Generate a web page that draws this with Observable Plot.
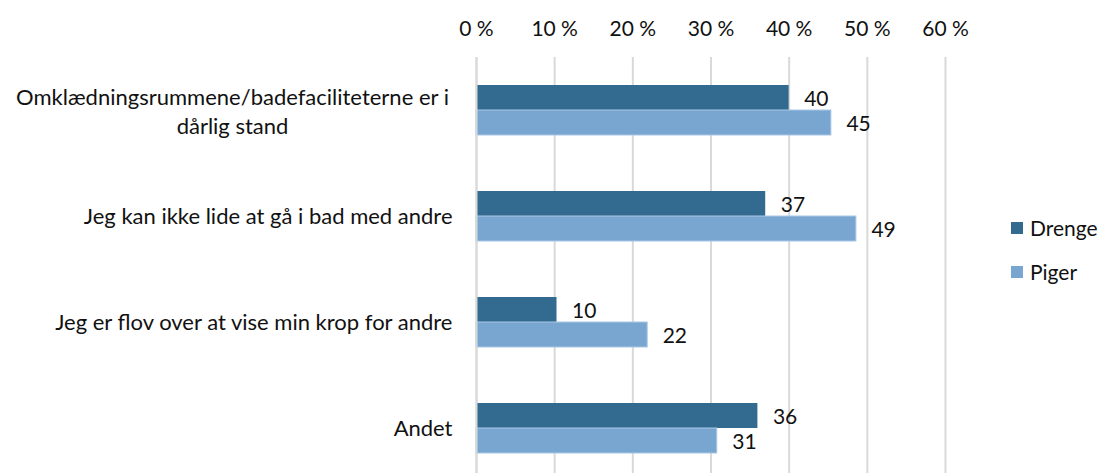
<!DOCTYPE html>
<html>
<head>
<meta charset="utf-8">
<script src="https://cdn.jsdelivr.net/npm/d3@7"></script>
<script src="https://cdn.jsdelivr.net/npm/@observablehq/plot@0.6"></script>
<style>
  html, body { margin: 0; padding: 0; background: #fff; }
  #wrap { position: relative; width: 1100px; height: 473px; font-family: Lato, "Open Sans", sans-serif; }
  .leg { position: absolute; left: 1011px; font-size: 21px; color: #111; display: flex; align-items: center; line-height: 24px; }
  .leg span.sw { display: inline-block; width: 12px; height: 12px; margin-right: 7px; }
</style>
</head>
<body>
<div id="wrap"></div>
<script>
const categories = [
  "Omklædningsrummene/badefaciliteterne er i\ndårlig stand",
  "Jeg kan ikke lide at gå i bad med andre",
  "Jeg er flov over at vise min krop for andre",
  "Andet"
];
const series = ["Drenge", "Piger"];
const drenge = [40.0, 37.0, 10.3, 36.0];
const piger = [45.4, 48.6, 21.9, 30.8];
const xTicks = [0, 10, 20, 30, 40, 50, 60];
const colors = ["#336A90", "#78A6D0"];

const data = [];
categories.forEach((c, i) => {
  data.push({cat: c, sex: "Drenge", value: drenge[i]});
  data.push({cat: c, sex: "Piger", value: piger[i]});
});
const dData = data.filter(d => d.sex === "Drenge");
const pData = data.filter(d => d.sex === "Piger");
const multi = categories.filter(c => c.includes("\n"));

const chart = Plot.plot({
  width: 1100,
  height: 473,
  marginLeft: 476,
  marginRight: 155,
  marginTop: 57,
  marginBottom: 0,
  style: {fontFamily: "Lato, 'Open Sans', sans-serif", fontSize: "21px", color: "#111", background: "#fff"},
  x: {domain: [0, 60], ticks: xTicks, label: null},
  y: {domain: categories, range: [57, 481], padding: 0, label: null},
  color: {domain: series, range: colors},
  marks: [
    Plot.gridX(xTicks, {stroke: "#D9D9D9", strokeOpacity: 1, strokeWidth: 2}),
    Plot.barX(dData, {x: "value", y: "cat", fill: "sex", insetTop: 28, insetBottom: 53}),
    Plot.barX(pData, {x: "value", y: "cat", fill: "sex", insetTop: 53, insetBottom: 28, stroke: "#A9C7E4", strokeWidth: 1}),
    Plot.text(dData, {x: "value", y: "cat", text: d => String(Math.round(d.value)), dx: 15, dy: -11, textAnchor: "start", fill: "#111"}),
    Plot.text(pData, {x: "value", y: "cat", text: d => String(Math.round(d.value)), dx: 15, dy: 14, textAnchor: "start", fill: "#111"}),
    Plot.axisX(xTicks, {anchor: "top", tickSize: 0, tickPadding: 22, tickFormat: d => d + " %", fill: "#111", label: null}),
    Plot.axisY({anchor: "left", tickSize: 0, tickPadding: 24, tickFormat: d => d.includes("\n") ? "" : d, fill: "#111", fontSize: 22, label: null}),
    Plot.text(multi, {y: d => d, text: d => d, frameAnchor: "left", textAnchor: "middle", dx: -244, lineHeight: 1.28, fill: "#111", fontSize: 22}),
    Plot.ruleX([0], {stroke: "#D9D9D9", strokeWidth: 2})
  ]
});
const wrap = document.getElementById("wrap");
wrap.appendChild(chart);
series.forEach((s, i) => {
  const el = document.createElement("div");
  el.className = "leg";
  el.style.top = (i === 0 ? 216 : 260) + "px";
  el.innerHTML = `<span class="sw" style="background:${colors[i]}"></span>${s}`;
  wrap.appendChild(el);
});
</script>
</body>
</html>
